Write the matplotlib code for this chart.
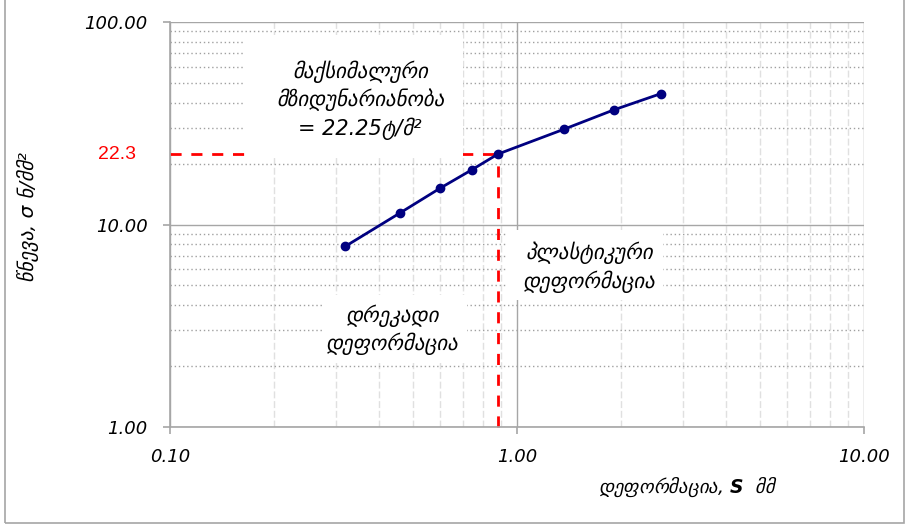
import matplotlib
matplotlib.use('Agg')
import matplotlib.pyplot as plt
from decimal import Decimal, ROUND_HALF_UP
from matplotlib.patches import Rectangle
from matplotlib.ticker import FixedLocator, LogLocator, NullFormatter

# settlement test: deformation (mm) vs pressure (N/mm2)
deformation = [0.32, 0.46, 0.60, 0.74, 0.88, 1.37, 1.90, 2.60]
pressure = [7.8, 11.4, 15.1, 18.6, 22.25, 29.6, 36.8, 44.3]

max_pressure = 22.25
yield_deformation = 0.88

x_ticks = [0.1, 1.0, 10.0]
x_tick_labels = ['0.10', '1.00', '10.00']
y_ticks = [1.0, 10.0, 100.0]
y_tick_labels = ['1.00', '10.00', '100.00']

plt.rcParams['mathtext.fontset'] = 'custom'
plt.rcParams['mathtext.bf'] = 'DejaVu Sans:bold:italic'

geo = ['DejaVu Sans']
gray = '#a6a6a6'

fig = plt.figure(figsize=(9.07, 5.29), dpi=100)
fig.patches.append(Rectangle((5 / 907, 6 / 529), 899 / 907, 1.2, transform=fig.transFigure,
                             fill=False, edgecolor=gray, linewidth=1.2))

ax = fig.add_axes([170 / 907, 102 / 529, 694 / 907, 405 / 529])
ax.set_xscale('log')
ax.set_yscale('log')
ax.set_xlim(0.1, 10)
ax.set_ylim(1, 100)

for side in ['top', 'right']:
    ax.spines[side].set_visible(False)
for side in ['left', 'bottom']:
    ax.spines[side].set_color(gray)
    ax.spines[side].set_linewidth(1.2)

ax.xaxis.set_major_locator(FixedLocator(x_ticks))
ax.yaxis.set_major_locator(FixedLocator(y_ticks))
ax.set_xticklabels(x_tick_labels)
ax.set_yticklabels(y_tick_labels)
ax.xaxis.set_minor_locator(LogLocator(base=10, subs=range(2, 10)))
ax.yaxis.set_minor_locator(LogLocator(base=10, subs=range(2, 10)))
ax.xaxis.set_minor_formatter(NullFormatter())
ax.yaxis.set_minor_formatter(NullFormatter())
ax.tick_params(which='major', length=5, color=gray, width=1.2, labelsize=13)
ax.tick_params(axis='x', which='major', pad=10)
ax.tick_params(axis='y', which='major', pad=11)
ax.tick_params(which='minor', length=0)
for lbl in ax.get_xticklabels() + ax.get_yticklabels():
    lbl.set_fontstyle('italic')
    lbl.set_family('DejaVu Sans')

ax.grid(which='major', color=gray, linewidth=1.0, linestyle='-', zorder=0)
ax.grid(which='minor', axis='y', color='#a0a0a0', linewidth=1.0, linestyle=(0, (1, 2)), zorder=0)
ax.grid(which='minor', axis='x', color='#e0e0e0', linewidth=1.0, linestyle=(0, (5, 2)), zorder=0)
ax.set_axisbelow(True)

# yield point guides
ax.plot([0.1, yield_deformation], [max_pressure, max_pressure], color='red',
        linewidth=2, linestyle=(0, (4, 3.5)), zorder=2, clip_on=False)
ax.plot([yield_deformation, yield_deformation], [1, max_pressure], color='red',
        linewidth=2, linestyle=(0, (4, 3.5)), zorder=2, clip_on=False)

ax.plot(deformation, pressure, color='#000080', linewidth=2, marker='o',
        markersize=6, zorder=4)

p_label = Decimal(str(max_pressure)).quantize(Decimal('0.1'), rounding=ROUND_HALF_UP)
ax.text(-0.076, max_pressure, str(p_label), transform=ax.get_yaxis_transform(),
        ha='center', va='center', color='red', fontsize=14, family='Liberation Sans')

# white label boxes (axes fraction): x, y, w, h
boxes = [(0.108, 0.664, 0.314, 0.304),
         (0.487, 0.314, 0.223, 0.172),
         (0.219, 0.158, 0.209, 0.168)]
for bx, by, bw, bh in boxes:
    ax.add_patch(Rectangle((bx, by), bw, bh, transform=ax.transAxes, facecolor='white',
                           edgecolor='none', zorder=5))

txt = dict(ha='center', va='center', fontsize=15, fontstyle='italic', family=geo,
           linespacing=1.35, transform=ax.transAxes, zorder=6)
ax.text(0.274, 0.807, 'მაქსიმალური\nმზიდუნარიანობა\n= 22.25ტ/მ²', **txt)
ax.text(0.604, 0.395, 'პლასტიკური\nდეფორმაცია', **txt)
ax.text(0.321, 0.240, 'დრეკადი\nდეფორმაცია', **txt)

fig.text(28 / 907, 1 - 217 / 529, 'წნევა, σ ნ/მმ²', rotation=90, ha='center', va='center',
         fontsize=14.5, fontstyle='italic', family=geo)
fig.text(688 / 907, 1 - 487 / 529, 'დეფორმაცია, $\\mathbf{S}$  მმ', ha='center',
         va='center', fontsize=13.5, fontstyle='italic', family=geo)

fig.savefig('out.png', dpi=100)
